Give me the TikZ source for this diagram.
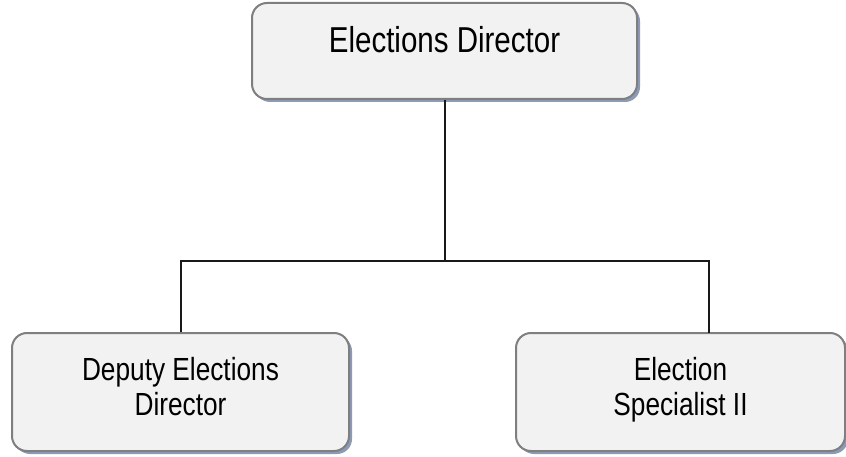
\documentclass[tikz,border=0pt]{standalone}
\usepackage{fontspec}
\setmainfont{Liberation Sans}[FakeStretch=0.82]
\usetikzlibrary{shadows}
\definecolor{boxgray}{HTML}{F2F2F2}
\definecolor{rimgray}{HTML}{7F7F7F}
\definecolor{shadeblue}{HTML}{8C9BB5}
\tikzstyle{post}=[draw=rimgray,line width=2pt,fill=boxgray,rounded corners=15pt,
  drop shadow={shadow xshift=3pt,shadow yshift=-3pt,fill=shadeblue,opacity=1},
  align=center,inner sep=0pt]
\tikzstyle{link}=[line width=2pt,black!90]

\begin{document}
\begin{tikzpicture}[x=1pt,y=1pt]
\useasboundingbox (0,0) rectangle (846,456);
  \node[post,minimum width=385pt,minimum height=96pt,text depth=23pt,
        font=\fontsize{36}{40}\selectfont] (dir) at (444.5,405) {Elections Director};
  \foreach \place/\boxwd/\name/\txt in {{(180.5,64)/337/dep/{Deputy Elections\\Director}},
                                        {(680.5,64)/329/spec/{Election\\Specialist II}}}
    \node[post,minimum width=\boxwd pt,minimum height=118pt,text depth=12pt,
          font=\fontsize{32}{35}\selectfont] (\name) at \place {\txt};
  \coordinate (split) at (444.5,195);
  \coordinate (spectop) at (709,123);
  \draw[link] (dir.south) -- (split);
  \draw[link] (dep.north) |- (split) -| (spectop);
\end{tikzpicture}
\end{document}
